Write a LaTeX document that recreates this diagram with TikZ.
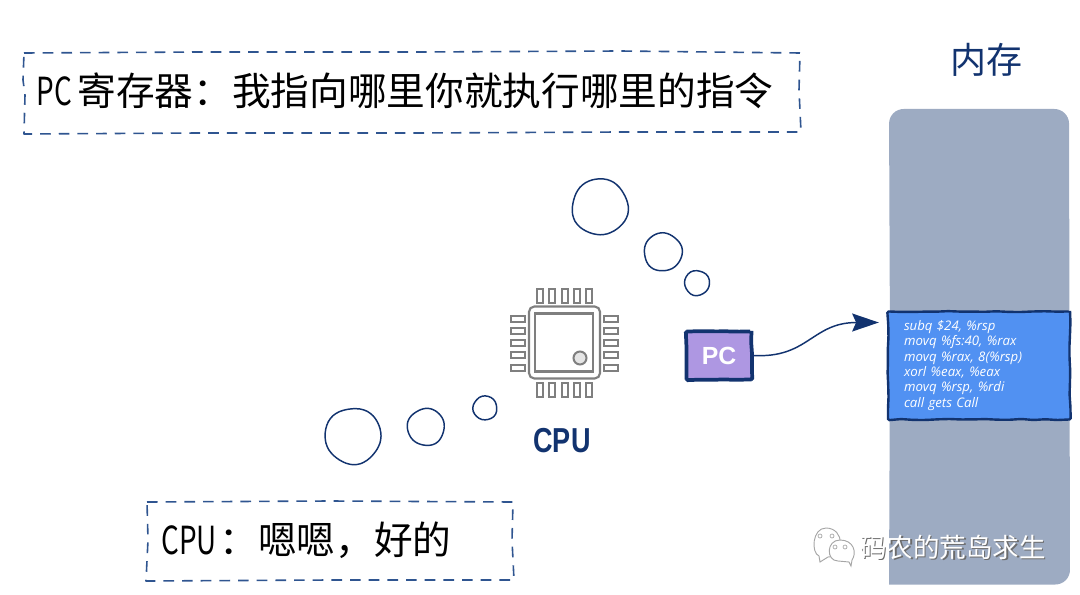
\documentclass[tikz,border=0pt]{standalone}
\usepackage{fontspec}
\usetikzlibrary{arrows.meta,decorations.pathmorphing}
\setmainfont{Liberation Sans}
\newfontfamily\cjk{Noto Sans CJK SC}
\newfontfamily\cjklat[FakeStretch=0.72]{Noto Sans CJK SC}
\newfontfamily\codefont{Open Sans}
\definecolor{navy}{HTML}{12336F}
\definecolor{dashblue}{HTML}{2F5590}
\definecolor{memgrey}{HTML}{9DABC2}
\definecolor{blockblue}{HTML}{5191F2}
\definecolor{pcpurple}{HTML}{AE97E2}
\definecolor{chipgrey}{HTML}{7F7F7F}
\tikzset{
  rough/.style={decorate,decoration={random steps,segment length=9pt,amplitude=0.4pt},rounded corners=1pt},
  bubble/.style={circle,inner sep=0pt},
  bubbleline/.style={draw=navy,line width=1.1pt,fill=white,line join=round},
  notebox/.style={rectangle,inner ysep=0pt,inner xsep=9pt,align=left,font=\fontsize{29pt}{32pt}\selectfont\cjk,text=black},
  noteline/.style={draw=dashblue,line width=1.2pt,dash pattern=on 8pt off 6pt,line join=round},
  pin/.style={rectangle,draw=chipgrey,line width=1.5pt,fill=white,inner sep=0pt},
  memoryfill/.style={fill=memgrey},
  codeblock/.style={rectangle,draw=navy,fill=blockblue,line width=1.8pt,rough,inner xsep=12pt,inner ysep=0pt,text=white,align=left,font=\fontsize{9.9pt}{11.5pt}\selectfont\codefont\itshape},
  pcbox/.style={rectangle,draw=navy,fill=pcpurple,line width=2.8pt,rough,inner sep=0pt,text=white,font=\fontsize{18.6pt}{20pt}\selectfont\bfseries},
  conn/.style={draw=navy,line width=1.1pt,-{Stealth[length=20pt,width=13.5pt,inset=3pt]},shorten >=6pt},
  title/.style={text=navy,inner sep=0pt},
  wmtext/.style={inner sep=0pt,font=\fontsize{19.9pt}{22pt}\selectfont\cjk},
  wechat/.style={draw=gray!70,line width=0.7pt,fill=white},
}
\newcommand{\wobblering}[3]{% node, radius in px, phase
  \draw[bubbleline,shift={(#1)}] plot[smooth cycle,domain=0:345,samples=24] ({#2*(1+0.018*sin(3*\x+#3)+0.012*sin(5*\x+2*#3))*cos(\x)},{#2*(1+0.018*sin(3*\x+#3)+0.012*sin(5*\x+2*#3))*sin(\x)});
}
\begin{document}
\begin{tikzpicture}[x=0.75pt,y=-0.75pt]
\useasboundingbox (0,0) rectangle (1080,595);
\pgfmathsetseed{7}
% memory column
\fill[memoryfill] (889,584.5) -- (890,350) [rounded corners=11pt] -- (889,109) -- (1069,109) -- (1070,584.5) [sharp corners] -- cycle;
\node[title,font=\fontsize{27pt}{30pt}\selectfont\cjk] (memtitle) at (986,60) {内存};
% code block
\node[codeblock,text width=112.5pt,minimum height=81pt] (block) at (979,365.5) {subq \$24, \%rsp\\movq \%fs:40, \%rax\\movq \%rax, 8(\%rsp)\\xorl \%eax, \%eax\\movq \%rsp, \%rdi\\call gets Call};
% note boxes
\node[notebox,text width=563pt,minimum height=60pt] (top) at (412,91) {{\cjklat PC}\kern4pt 寄存器：我指向哪里你就执行哪里的指令};
\draw[noteline] (24,53) -- (200,52) -- (420,52) -- (620,51) -- (800,53) -- (799,90) -- (801,132) -- (620,132) -- (420,133) -- (200,133) -- (24,134) -- (25,95) -- (23,80) -- cycle;
\node[notebox,text width=256pt,minimum height=60pt] (bottom) at (332,540) {{\cjklat CPU}\kern2pt ：嗯嗯，好的};
\draw[noteline] (147,502) -- (330,501) -- (513,502) -- (512,540) -- (514,580) -- (330,580) -- (146,581) -- (148,540) -- cycle;
% thought bubbles
\node[bubble] (b1) at (600,207) {};
\node[bubble] (b2) at (663,252) {};
\node[bubble] (b3) at (697,283) {};
\node[bubble] (b4) at (353,436) {};
\node[bubble] (b5) at (426,427) {};
\node[bubble] (b6) at (485,408) {};
\wobblering{b1}{28}{20}
\wobblering{b2}{19}{80}
\wobblering{b3}{12.5}{140}
\wobblering{b4}{28}{200}
\wobblering{b5}{18.5}{260}
\wobblering{b6}{12}{320}
% chip
\foreach \i/\cx in {1/540,2/552.3,3/564.5,4/576.7,5/589}{
  \node[pin,minimum width=4.5pt,minimum height=10.5pt] (pt\i) at (\cx,296) {};
  \node[pin,minimum width=4.5pt,minimum height=10.5pt] (pb\i) at (\cx,389.5) {};
}
\foreach \i/\cy in {1/318.7,2/331,3/343.2,4/355.4,5/367.7}{
  \node[pin,minimum width=10.5pt,minimum height=4.5pt] (pl\i) at (517.5,\cy) {};
  \node[pin,minimum width=10.5pt,minimum height=4.5pt] (pr\i) at (610.5,\cy) {};
}
\node[rectangle,draw=chipgrey,line width=1.6pt,rounded corners=4pt,fill=white,minimum width=53.25pt,minimum height=54pt,inner sep=0pt] (chip) at (564.5,342.5) {};
\node[rectangle,draw=chipgrey,line width=1.6pt,minimum width=43.5pt,minimum height=43.5pt,inner sep=0pt] (die) at (564,342.5) {};
\node[circle,draw=chipgrey,line width=1.5pt,fill=white!90!black,minimum size=9.75pt,inner sep=0pt] (dot) at (580,358) {};
\node[title,font=\fontsize{26pt}{28pt}\selectfont\bfseries,xscale=0.78] (cpu) at (562,441) {CPU};
% PC
\node[pcbox,minimum width=48.75pt,minimum height=36pt] (pc) at (719,355.5) {PC};
\draw[conn] (pc.east) .. controls +(55,3) and +(-75,0) .. (block.155);
% watermark
\path[wechat] (826,528) .. controls (812,528) and (811,553) .. (819,556) -- (820,562) -- (828,557) .. controls (845,557) and (845,528) .. (826,528) -- cycle;
\path[wechat] (840,540) .. controls (826,540) and (826,561) .. (838,561) -- (849,562) -- (851,566) -- (852,560) .. controls (857,553) and (854,540) .. (840,540) -- cycle;
\node[circle,draw=gray!70,line width=0.5pt,inner sep=0pt,minimum size=3pt] (e1) at (820,536) {};
\node[circle,draw=gray!70,line width=0.5pt,inner sep=0pt,minimum size=3pt] (e2) at (832,536) {};
\node[circle,draw=gray!70,line width=0.5pt,inner sep=0pt,minimum size=3pt] (e3) at (835,547) {};
\node[circle,draw=gray!70,line width=0.5pt,inner sep=0pt,minimum size=3pt] (e4) at (845,547) {};
\node[wmtext,text=gray!85!black,anchor=west] (wmshadow) at (861.5,548.5) {码农的荒岛求生};
\node[wmtext,text=white,anchor=west] (wm) at (860,547) {码农的荒岛求生};
\end{tikzpicture}
\end{document}
